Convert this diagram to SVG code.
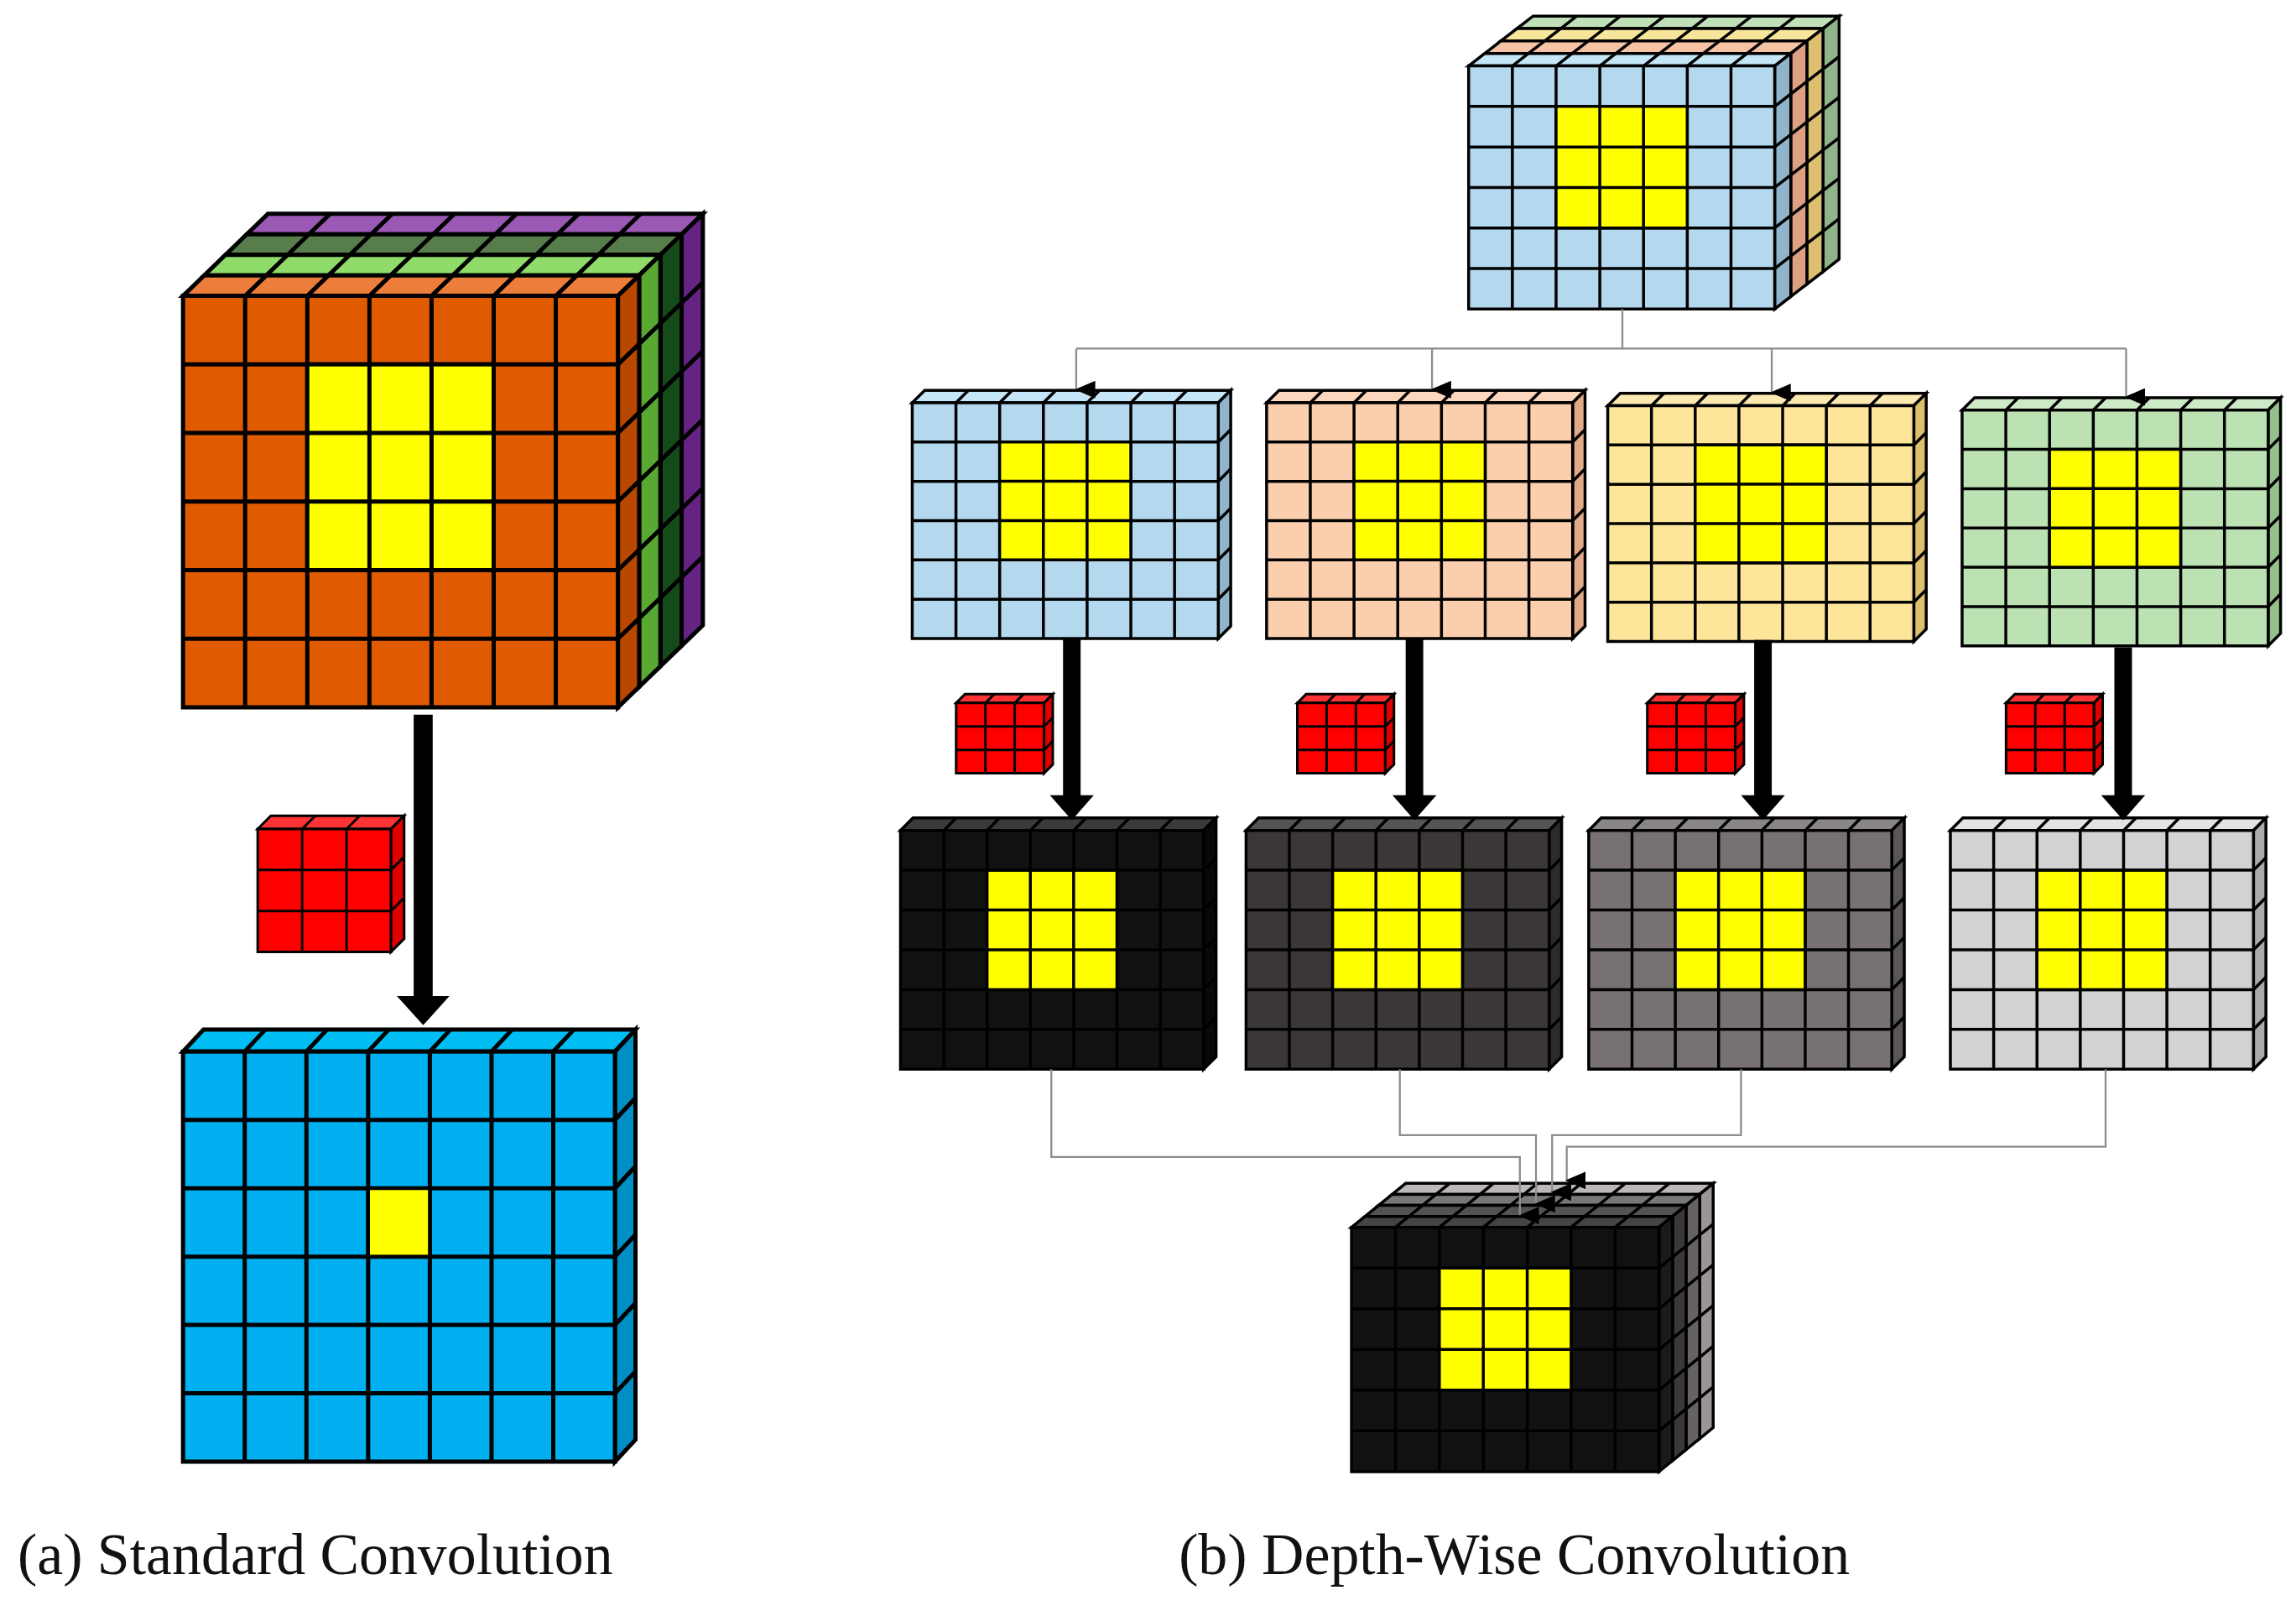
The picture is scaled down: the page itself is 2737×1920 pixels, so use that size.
<svg xmlns="http://www.w3.org/2000/svg" xmlns:xlink="http://www.w3.org/1999/xlink" width="2737" height="1920" viewBox="0 0 2737 1920">
<style>
.e{stroke:#000;vector-effect:non-scaling-stroke}
.n{fill:none}
.thin{fill:none;stroke:#8c8c8c;stroke-width:1.3}
.thick{stroke:#000;stroke-width:13}
.lbl{font-family:"Liberation Serif","Times New Roman",serif;font-size:40px;fill:#111}
.A use{stroke-width:5}
.B use{stroke-width:3.5}
.K use{stroke-width:3}
</style>
<defs>
<g id="f76"><rect class="e" width="7" height="6"/><path class="e n" d="M1 0V6M2 0V6M3 0V6M4 0V6M5 0V6M6 0V6M0 1H7M0 2H7M0 3H7M0 4H7M0 5H7"/></g>
<g id="t7"><rect class="e" width="7" height="1"/><path class="e n" d="M1 0V1M2 0V1M3 0V1M4 0V1M5 0V1M6 0V1"/></g>
<g id="s6"><rect class="e" width="1" height="6"/><path class="e n" d="M0 1H1M0 2H1M0 3H1M0 4H1M0 5H1"/></g>
<g id="f33"><rect class="e" width="3" height="3"/><path class="e n" d="M1 0V3M2 0V3M0 1H3M0 2H3"/></g>
<g id="t3"><rect class="e" width="3" height="1"/><path class="e n" d="M1 0V1M2 0V1"/></g>
<g id="s3"><rect class="e" width="1" height="3"/><path class="e n" d="M0 1H1M0 2H1"/></g>
<marker id="ah" markerUnits="userSpaceOnUse" markerWidth="12" markerHeight="14" refX="6" refY="13" orient="auto-start-reverse" viewBox="0 0 12 14"><path d="M0 0H12L6 14Z" fill="#000"/></marker>
</defs>
<g transform="scale(1.7455)">
<!-- (a) input cube -->
<g id="a_input" class="A">
<use href="#t7" fill="#9b59b6" transform="matrix(42.43,0,14.5,-14,168.5,160)"/>
<use href="#s6" fill="#652484" transform="matrix(14.5,-14,0,46.83,465.5,160)"/>
<use href="#t7" fill="#567d4a" transform="matrix(42.43,0,14.5,-14,154,174)"/>
<use href="#s6" fill="#154a1a" transform="matrix(14.5,-14,0,46.83,451,174)"/>
<use href="#t7" fill="#8fdc6a" transform="matrix(42.43,0,14.5,-14,139.5,188)"/>
<use href="#s6" fill="#58a832" transform="matrix(14.5,-14,0,46.83,436.5,188)"/>
<use href="#t7" fill="#ed7d3a" transform="matrix(42.43,0,14.5,-14,125,202)"/>
<use href="#s6" fill="#b84800" transform="matrix(14.5,-14,0,46.83,422,202)"/>
<use href="#f76" fill="#e05a00" transform="matrix(42.43,0,0,46.83,125,202)"/>
<use href="#f33" fill="#ffff00" transform="matrix(42.43,0,0,46.83,209.86,248.83)"/>
</g>
<g id="a_kernel" class="K">
<use href="#t3" fill="#ff3333" transform="matrix(30.33,0,9,-9,176,566)"/>
<use href="#s3" fill="#e00000" transform="matrix(9,-9,0,28,267,566)"/>
<use href="#f33" fill="#ff0000" transform="matrix(30.33,0,0,28,176,566)"/>
</g>
<g id="a_output" class="A">
<use href="#t7" fill="#00bdf3" transform="matrix(42.14,0,14,-15,125,718)"/>
<use href="#s6" fill="#008ec4" transform="matrix(14,-15,0,46.67,420,718)"/>
<use href="#f76" fill="#00b0f0" transform="matrix(42.14,0,0,46.67,125,718)"/>
<rect x="251.4" y="811.3" width="42.14" height="46.67" fill="#ffff00" stroke="#000" stroke-width="2.5"/>
</g>
<!-- (b) input -->
<g id="b_input" class="B">
<use href="#t7" fill="#bfe0b8" transform="matrix(29.86,0,11,-8.5,1036,19.5)"/>
<use href="#s6" fill="#8fb48a" transform="matrix(11,-8.5,0,27.67,1245,19.5)"/>
<use href="#t7" fill="#f8e59c" transform="matrix(29.86,0,11,-8.5,1025,28)"/>
<use href="#s6" fill="#dcc070" transform="matrix(11,-8.5,0,27.67,1234,28)"/>
<use href="#t7" fill="#f7c3a5" transform="matrix(29.86,0,11,-8.5,1014,36.5)"/>
<use href="#s6" fill="#dda083" transform="matrix(11,-8.5,0,27.67,1223,36.5)"/>
<use href="#t7" fill="#c5e6f7" transform="matrix(29.86,0,11,-8.5,1003,45)"/>
<use href="#s6" fill="#8fb4cc" transform="matrix(11,-8.5,0,27.67,1212,45)"/>
<use href="#f76" fill="#b4d8ee" transform="matrix(29.86,0,0,27.67,1003,45)"/>
<use href="#f33" fill="#ffff00" transform="matrix(29.86,0,0,27.67,1062.7,72.67)"/>
</g>
<!-- middle row -->
<g id="b_ch1" class="B">
<use href="#t7" fill="#c5e6f7" transform="matrix(29.86,0,8.5,-8.5,623,275)"/>
<use href="#s6" fill="#8fb4cc" transform="matrix(8.5,-8.5,0,26.83,832,275)"/>
<use href="#f76" fill="#b4d8ee" transform="matrix(29.86,0,0,26.83,623,275)"/>
<use href="#f33" fill="#ffff00" transform="matrix(29.86,0,0,26.83,682.7,301.8)"/>
</g>
<g id="b_ch2" class="B">
<use href="#t7" fill="#fbd8bd" transform="matrix(29.86,0,8.5,-8.5,865,275)"/>
<use href="#s6" fill="#e0aa88" transform="matrix(8.5,-8.5,0,26.83,1074,275)"/>
<use href="#f76" fill="#fbcfae" transform="matrix(29.86,0,0,26.83,865,275)"/>
<use href="#f33" fill="#ffff00" transform="matrix(29.86,0,0,26.83,924.7,301.8)"/>
</g>
<g id="b_ch3" class="B">
<use href="#t7" fill="#fdeab0" transform="matrix(29.86,0,8.5,-8.5,1098,277)"/>
<use href="#s6" fill="#dcc070" transform="matrix(8.5,-8.5,0,26.83,1307,277)"/>
<use href="#f76" fill="#fde59a" transform="matrix(29.86,0,0,26.83,1098,277)"/>
<use href="#f33" fill="#ffff00" transform="matrix(29.86,0,0,26.83,1157.7,303.8)"/>
</g>
<g id="b_ch4" class="B">
<use href="#t7" fill="#cdeac6" transform="matrix(29.86,0,8.5,-8.5,1340,280)"/>
<use href="#s6" fill="#94c08c" transform="matrix(8.5,-8.5,0,26.83,1549,280)"/>
<use href="#f76" fill="#bce2b4" transform="matrix(29.86,0,0,26.83,1340,280)"/>
<use href="#f33" fill="#ffff00" transform="matrix(29.86,0,0,26.83,1399.7,306.8)"/>
</g>
<!-- kernels -->
<g id="b_k1" class="K">
<use href="#t3" fill="#ff3333" transform="matrix(20,0,6,-6,653,480)"/>
<use href="#s3" fill="#e00000" transform="matrix(6,-6,0,16,713,480)"/>
<use href="#f33" fill="#ff0000" transform="matrix(20,0,0,16,653,480)"/>
</g>
<g id="b_k2" class="K">
<use href="#t3" fill="#ff3333" transform="matrix(20,0,6,-6,886,480)"/>
<use href="#s3" fill="#e00000" transform="matrix(6,-6,0,16,946,480)"/>
<use href="#f33" fill="#ff0000" transform="matrix(20,0,0,16,886,480)"/>
</g>
<g id="b_k3" class="K">
<use href="#t3" fill="#ff3333" transform="matrix(20,0,6,-6,1125,480)"/>
<use href="#s3" fill="#e00000" transform="matrix(6,-6,0,16,1185,480)"/>
<use href="#f33" fill="#ff0000" transform="matrix(20,0,0,16,1125,480)"/>
</g>
<g id="b_k4" class="K">
<use href="#t3" fill="#ff3333" transform="matrix(20,0,6,-6,1370,480)"/>
<use href="#s3" fill="#e00000" transform="matrix(6,-6,0,16,1430,480)"/>
<use href="#f33" fill="#ff0000" transform="matrix(20,0,0,16,1370,480)"/>
</g>
<!-- dark row -->
<g id="b_out1" class="B">
<use href="#t7" fill="#3a3a3a" transform="matrix(29.57,0,8.5,-8.5,615,567)"/>
<use href="#s6" fill="#080808" transform="matrix(8.5,-8.5,0,27.17,822,567)"/>
<use href="#f76" fill="#121111" transform="matrix(29.57,0,0,27.17,615,567)"/>
<use href="#f33" fill="#ffff00" transform="matrix(29.57,0,0,27.17,674.1,594.2)"/>
</g>
<g id="b_out2" class="B">
<use href="#t7" fill="#555353" transform="matrix(29.57,0,8.5,-8.5,851,567)"/>
<use href="#s6" fill="#2c2a2a" transform="matrix(8.5,-8.5,0,27.17,1058,567)"/>
<use href="#f76" fill="#3b3737" transform="matrix(29.57,0,0,27.17,851,567)"/>
<use href="#f33" fill="#ffff00" transform="matrix(29.57,0,0,27.17,910.1,594.2)"/>
</g>
<g id="b_out3" class="B">
<use href="#t7" fill="#8b8686" transform="matrix(29.57,0,8.5,-8.5,1085,567)"/>
<use href="#s6" fill="#5a5656" transform="matrix(8.5,-8.5,0,27.17,1292,567)"/>
<use href="#f76" fill="#777171" transform="matrix(29.57,0,0,27.17,1085,567)"/>
<use href="#f33" fill="#ffff00" transform="matrix(29.57,0,0,27.17,1144.1,594.2)"/>
</g>
<g id="b_out4" class="B">
<use href="#t7" fill="#e3e3e3" transform="matrix(29.57,0,8.5,-8.5,1332,567)"/>
<use href="#s6" fill="#aaaaaa" transform="matrix(8.5,-8.5,0,27.17,1539,567)"/>
<use href="#f76" fill="#d3d1d1" transform="matrix(29.57,0,0,27.17,1332,567)"/>
<use href="#f33" fill="#ffff00" transform="matrix(29.57,0,0,27.17,1391.1,594.2)"/>
</g>
<!-- final output -->
<g id="b_output" class="B">
<use href="#t7" fill="#bcb8b8" transform="matrix(30,0,9.25,-7.5,950.75,815.5)"/>
<use href="#s6" fill="#9a9696" transform="matrix(9.25,-7.5,0,27.8,1160.75,815.5)"/>
<use href="#t7" fill="#7b7777" transform="matrix(30,0,9.25,-7.5,941.5,823)"/>
<use href="#s6" fill="#666262" transform="matrix(9.25,-7.5,0,27.8,1151.5,823)"/>
<use href="#t7" fill="#555252" transform="matrix(30,0,9.25,-7.5,932.25,830.5)"/>
<use href="#s6" fill="#3a3838" transform="matrix(9.25,-7.5,0,27.8,1142.25,830.5)"/>
<use href="#t7" fill="#454343" transform="matrix(30,0,9.25,-7.5,923,838)"/>
<use href="#s6" fill="#1a1a1a" transform="matrix(9.25,-7.5,0,27.8,1133,838)"/>
<use href="#f76" fill="#121111" transform="matrix(30,0,0,27.8,923,838)"/>
<use href="#f33" fill="#ffff00" transform="matrix(30,0,0,27.8,983,865.8)"/>
</g>
<!-- connectors -->
<g id="connectors">
<path class="thick" d="M289 488V682"/>
<polygon points="271,680 307,680 289,700"/>
<path class="thick" d="M732 436V545" style="stroke-width:12"/>
<polygon points="717,543 747,543 732,560"/>
<path class="thick" d="M966 436V545" style="stroke-width:12"/>
<polygon points="951,543 981,543 966,560"/>
<path class="thick" d="M1204 437V545" style="stroke-width:12"/>
<polygon points="1189,543 1219,543 1204,560"/>
<path class="thick" d="M1450 442V545" style="stroke-width:12"/>
<polygon points="1435,543 1465,543 1450,560"/>
<path class="thin" d="M1108 211V238M735 238H1452"/>
<path class="thin" marker-end="url(#ah)" d="M735 238V266"/>
<path class="thin" marker-end="url(#ah)" d="M978 238V266"/>
<path class="thin" marker-end="url(#ah)" d="M1210 238V268"/>
<path class="thin" marker-end="url(#ah)" d="M1452 238V271"/>
<path class="thin" marker-end="url(#ah)" d="M718 730V790H1038V830"/>
<path class="thin" marker-end="url(#ah)" d="M956 730V775H1049V822"/>
<path class="thin" marker-end="url(#ah)" d="M1189 730V775H1060V814"/>
<path class="thin" marker-end="url(#ah)" d="M1438 730V783H1070V806"/>
</g>
<text class="lbl" x="12" y="1075">(a) Standard Convolution</text>
<text class="lbl" x="805" y="1075">(b) Depth-Wise Convolution</text>
</g>
</svg>
